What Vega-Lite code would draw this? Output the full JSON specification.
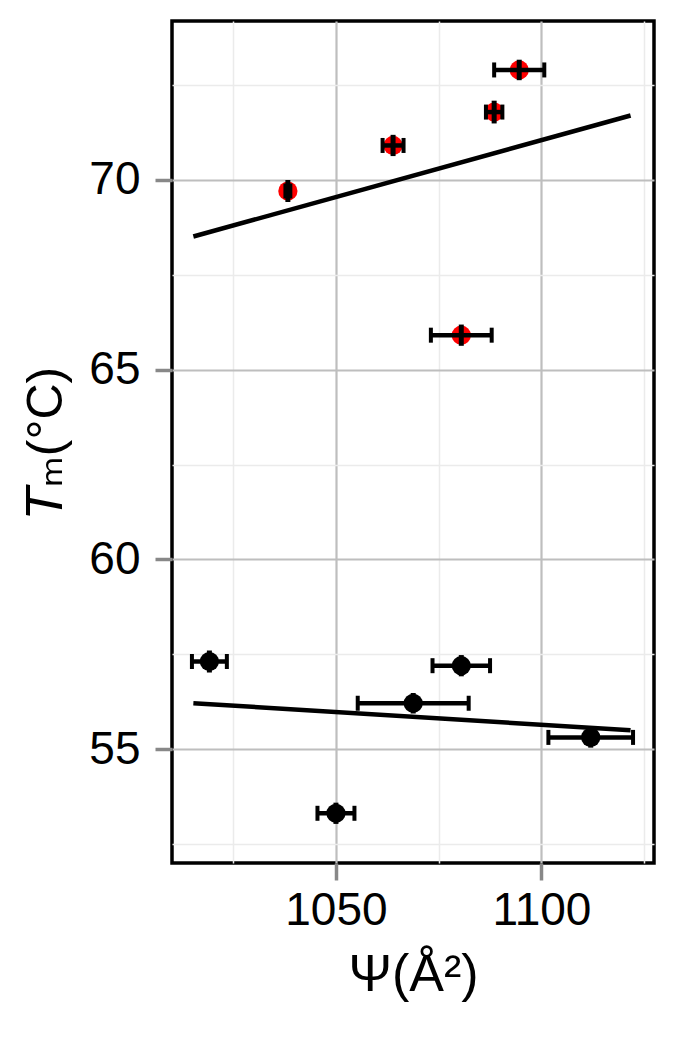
{
  "$schema": "https://vega.github.io/schema/vega-lite/v6.json",
  "width": 482,
  "height": 842,
  "autosize": {"type": "none"},
  "padding": {"left": 172, "top": 21, "right": 22, "bottom": 183},
  "background": "white",
  "config": {
    "view": {"stroke": "black", "strokeWidth": 3.5},
    "axis": {
      "domain": false,
      "labelOverlap": false,
      "labelFlush": false,
      "labelFont": "Liberation Sans",
      "labelFontSize": 46,
      "labelColor": "black",
      "tickColor": "#888888",
      "tickWidth": 3.5,
      "tickSize": 17,
      "titleFont": "Liberation Sans, DejaVu Sans",
      "titleFontWeight": "normal",
      "titleColor": "black"
    }
  },
  "datasets": {
    "points": [
      {"series": "high", "x": 1038.3, "y": 69.71, "xlo": 1037.7, "xhi": 1038.9, "ylo": 69.42, "yhi": 70.0},
      {"series": "high", "x": 1063.9, "y": 70.91, "xlo": 1061.35, "xhi": 1066.45, "ylo": 70.63, "yhi": 71.19},
      {"series": "high", "x": 1088.5, "y": 71.79, "xlo": 1086.5, "xhi": 1090.5, "ylo": 71.49, "yhi": 72.09},
      {"series": "high", "x": 1094.6, "y": 72.9, "xlo": 1088.5, "xhi": 1100.7, "ylo": 72.63, "yhi": 73.17},
      {"series": "high", "x": 1080.5, "y": 65.91, "xlo": 1073.1, "xhi": 1087.9, "ylo": 65.63, "yhi": 66.19},
      {"series": "low", "x": 1019.2, "y": 57.31, "xlo": 1014.95, "xhi": 1023.45, "ylo": 57.02, "yhi": 57.6},
      {"series": "low", "x": 1080.5, "y": 57.2, "xlo": 1073.5, "xhi": 1087.5, "ylo": 56.92, "yhi": 57.48},
      {"series": "low", "x": 1068.8, "y": 56.21, "xlo": 1055.3, "xhi": 1082.3, "ylo": 55.94, "yhi": 56.48},
      {"series": "low", "x": 1112.0, "y": 55.31, "xlo": 1101.7, "xhi": 1122.3, "ylo": 55.04, "yhi": 55.58},
      {"series": "low", "x": 1050.0, "y": 53.31, "xlo": 1045.5, "xhi": 1054.5, "ylo": 53.03, "yhi": 53.59}
    ],
    "fits": [
      {"series": "high", "x": 1015.3, "y": 68.51},
      {"series": "high", "x": 1121.7, "y": 71.70},
      {"series": "low", "x": 1015.3, "y": 56.21},
      {"series": "low", "x": 1121.7, "y": 55.50}
    ]
  },
  "resolve": {"axis": {"x": "independent", "y": "independent"}},
  "layer": [
    {
      "data": {"name": "fits"},
      "mark": {"type": "line", "opacity": 0},
      "encoding": {
        "x": {
          "field": "x", "type": "quantitative",
          "scale": {"domain": [1010.1, 1127.4], "nice": false, "zero": false},
          "axis": {
            "orient": "bottom",
            "values": [1025, 1075, 1125],
            "grid": true, "gridColor": "#ebebeb", "gridWidth": 1.5,
            "ticks": false, "labels": false, "title": null
          }
        },
        "y": {
          "field": "y", "type": "quantitative",
          "scale": {"domain": [52.0, 74.19], "nice": false, "zero": false},
          "axis": {
            "orient": "left",
            "values": [52.5, 57.5, 62.5, 67.5, 72.5],
            "grid": true, "gridColor": "#ebebeb", "gridWidth": 1.5,
            "ticks": false, "labels": false, "title": null
          }
        },
        "detail": {"field": "series", "type": "nominal"}
      }
    },
    {
      "data": {"name": "fits"},
      "mark": {"type": "line", "color": "black", "strokeWidth": 4.5},
      "encoding": {
        "x": {
          "field": "x", "type": "quantitative",
          "axis": {
            "orient": "bottom",
            "values": [1050, 1100],
            "format": "d",
            "ticks": false,
            "grid": true, "gridColor": "#bebebe", "gridWidth": 2.2,
            "labelPadding": 25,
            "title": "Ψ(Å²)",
            "titleFontSize": 52,
            "titlePadding": 16
          }
        },
        "y": {
          "field": "y", "type": "quantitative",
          "axis": {
            "orient": "left",
            "values": [55, 60, 65, 70],
            "format": "d",
            "ticks": false,
            "grid": true, "gridColor": "#bebebe", "gridWidth": 2.2,
            "labelPadding": 32,
            "title": "𝘛ₘ(°C)",
            "titleFontSize": 50,
            "titlePadding": 17
          }
        },
        "detail": {"field": "series", "type": "nominal"}
      }
    },
    {
      "data": {"name": "fits"},
      "mark": {"type": "line", "opacity": 0},
      "encoding": {
        "x": {
          "field": "x", "type": "quantitative",
          "axis": {
            "orient": "bottom",
            "values": [1050.01, 1100.01],
            "zindex": 2,
            "grid": false, "ticks": true, "labels": false, "title": null
          }
        },
        "y": {
          "field": "y", "type": "quantitative",
          "axis": {
            "orient": "left",
            "values": [55.001, 60.001, 65.001, 70.001],
            "zindex": 2,
            "grid": false, "ticks": true, "labels": false, "title": null
          }
        },
        "detail": {"field": "series", "type": "nominal"}
      }
    },
    {
      "data": {"name": "points"},
      "mark": {"type": "circle", "size": 370, "opacity": 1},
      "encoding": {
        "x": {"field": "x", "type": "quantitative", "axis": null},
        "y": {"field": "y", "type": "quantitative", "axis": null},
        "color": {"field": "series", "type": "nominal", "scale": {"domain": ["high", "low"], "range": ["#ff0000", "#000000"]}, "legend": null}
      }
    },
    {
      "data": {"name": "points"},
      "mark": {"type": "rule", "color": "black", "strokeWidth": 4.5},
      "encoding": {
        "x": {"field": "xlo", "type": "quantitative", "axis": null},
        "x2": {"field": "xhi"},
        "y": {"field": "y", "type": "quantitative", "axis": null}
      }
    },
    {
      "data": {"name": "points"},
      "mark": {"type": "rule", "color": "black", "strokeWidth": 5},
      "encoding": {
        "x": {"field": "x", "type": "quantitative", "axis": null},
        "y": {"field": "ylo", "type": "quantitative", "axis": null},
        "y2": {"field": "yhi"}
      }
    },
    {
      "data": {"name": "points"},
      "mark": {"type": "tick", "color": "black", "orient": "vertical", "size": 15, "thickness": 4, "opacity": 1},
      "encoding": {
        "x": {"field": "xlo", "type": "quantitative", "axis": null},
        "y": {"field": "y", "type": "quantitative", "axis": null}
      }
    },
    {
      "data": {"name": "points"},
      "mark": {"type": "tick", "color": "black", "orient": "vertical", "size": 15, "thickness": 4, "opacity": 1},
      "encoding": {
        "x": {"field": "xhi", "type": "quantitative", "axis": null},
        "y": {"field": "y", "type": "quantitative", "axis": null}
      }
    }
  ]
}
